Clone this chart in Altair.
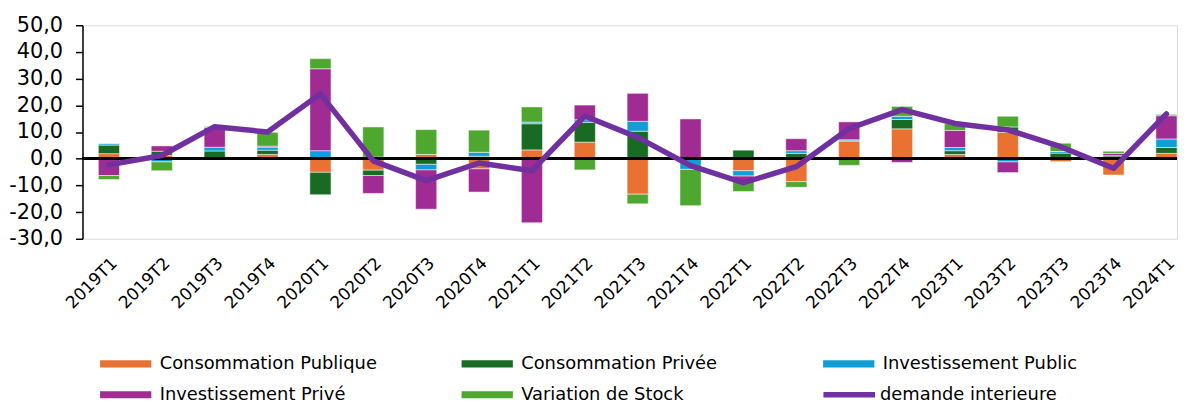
import altair as alt
import pandas as pd

quarters = ["2019T1", "2019T2", "2019T3", "2019T4", "2020T1", "2020T2", "2020T3", "2020T4",
            "2021T1", "2021T2", "2021T3", "2021T4", "2022T1", "2022T2", "2022T3", "2022T4",
            "2023T1", "2023T2", "2023T3", "2023T4", "2024T1"]

series = ["Consommation Publique", "Consommation Privée", "Investissement Public",
          "Investissement Privé", "Variation de Stock"]
series_colors = ["#E97132", "#196B24", "#0F9ED5", "#A02B93", "#4EA72E"]

conso_publique = [1.9, 1.3, 0.0, 1.6, -5.1, -4.3, 1.6, -3.8, 3.3, 6.2, -13.3, 0.0,
                  -4.5, -8.6, 6.7, 11.2, 1.6, 9.9, -1.1, -6.1, 2.0]
conso_privee = [3.2, 1.5, 2.9, 1.6, -8.4, -2.0, -2.1, 0.9, 9.8, 7.4, 10.3, 0.0,
                3.2, 2.0, 0.0, 3.5, 1.4, 2.0, 2.1, 1.1, 2.2]
invest_public = [0.5, -1.2, 1.4, 1.1, 3.0, 0.6, -2.1, 1.5, 0.6, 1.0, 3.7, -4.0,
                 -2.0, 1.0, 0.4, 1.2, 1.2, -1.2, 0.6, 0.0, 3.2]
invest_prive = [-6.3, 2.0, 7.4, 0.4, 30.7, -6.7, -14.7, -8.7, -24.0, 5.5, 10.5, 14.9,
                -1.9, 4.5, 6.7, -1.4, 6.4, -4.0, 0.0, 0.9, 8.7]
variation_stock = [-1.5, -3.3, 0.4, 5.2, 3.8, 11.3, 9.3, 8.3, 5.7, -4.2, -3.6, -13.6,
                   -3.9, -2.1, -2.5, 3.7, 2.5, 4.0, 3.1, 0.8, 0.5]

demande_interieure = [-2.3, 1.2, 12.0, 10.0, 24.3, -0.8, -8.2, -1.6, -4.5, 16.0, 8.0, -2.6,
                      -9.0, -3.0, 11.3, 18.4, 13.2, 10.8, 4.5, -3.6, 16.8]
line_name = "demande interieure"
line_color = "#7030A0"

y_ticks = [-30, -20, -10, 0, 10, 20, 30, 40, 50]

FONT = "DejaVu Sans"

# long table for bars
rows = []
for si, (name, vals) in enumerate(zip(series, [conso_publique, conso_privee, invest_public,
                                              invest_prive, variation_stock])):
    for q, v in zip(quarters, vals):
        rows.append({"quarter": q, "serie": name, "order": si, "value": v})
bars_df = pd.DataFrame(rows)
line_df = pd.DataFrame({"quarter": quarters, "value": demande_interieure,
                        "name": [line_name] * len(quarters)})

x_axis = alt.Axis(labelAngle=-45, labelFontSize=17, labelFont=FONT, labelColor="black",
                  domain=False, ticks=False, labelPadding=16, labelOverlap=False)
y_axis = alt.Axis(values=y_ticks, grid=False, labelFontSize=21, labelFont=FONT,
                  labelColor="black", domainColor="black", domainWidth=1.5,
                  tickColor="black", tickWidth=1.5, tickSize=7, labelPadding=13,
                  labelOverlap=False, labelBound=False,
                  labelExpr="(datum.value < 0 ? '-' : '') + replace(format(abs(datum.value), '.1f'), '.', ',')")
x_scale = alt.Scale(paddingInner=0.6, paddingOuter=0.15, align=1)
y_scale = alt.Scale(domain=[-30, 50], nice=False, zero=False)

bars = alt.Chart(bars_df).mark_bar(stroke="white", strokeWidth=1, strokeOpacity=0.5).encode(
    x=alt.X("quarter:N", sort=quarters, title=None, scale=x_scale, axis=x_axis),
    y=alt.Y("value:Q", title=None, stack="zero", scale=y_scale, axis=y_axis),
    order=alt.Order("order:Q", sort="ascending"),
    color=alt.Color("serie:N", sort=series,
                    scale=alt.Scale(domain=series, range=series_colors),
                    legend=alt.Legend(title=None, orient="none", legendX=34.5, legendY=332,
                                      direction="horizontal",
                                      columns=3, gridAlign="all", columnPadding=84, rowPadding=13,
                                      symbolType="M-5.16,-0.72h10.32v1.44h-10.32z", symbolSize=100,
                                      symbolStrokeWidth=0, symbolOpacity=1, labelOffset=25.2,
                                      labelFontSize=18, labelFont=FONT, labelColor="black",
                                      labelLimit=400)),
)

zero = alt.Chart(line_df).mark_rule(color="black", strokeWidth=2).encode(
    y=alt.YDatum(0, title=None, scale=y_scale, axis=y_axis))

line = alt.Chart(line_df).mark_line(strokeWidth=5.5, strokeCap="round", strokeJoin="round").encode(
    x=alt.X("quarter:N", sort=quarters, title=None, scale=x_scale, axis=x_axis),
    y=alt.Y("value:Q", title=None, scale=y_scale, axis=y_axis),
    stroke=alt.Stroke("name:N", scale=alt.Scale(domain=[line_name], range=[line_color]),
                      legend=alt.Legend(title=None, orient="none", legendX=743, legendY=343,
                                        symbolType="stroke", symbolSize=2700,
                                        symbolStrokeWidth=5.5, labelOffset=2, labelLimit=400,
                                        labelFontSize=18, labelFont=FONT, labelColor="black")),
)

chart = alt.layer(bars, zero, line).resolve_scale(color="independent").properties(
    width=1102, height=215,
    padding={"left": 0, "top": 5, "right": 0, "bottom": 0},
).configure_view(strokeWidth=0).configure_axisY(labelOverlap=False).configure(background="white")

chart.save("out.html", embed_options={"renderer": "svg", "actions": False})
